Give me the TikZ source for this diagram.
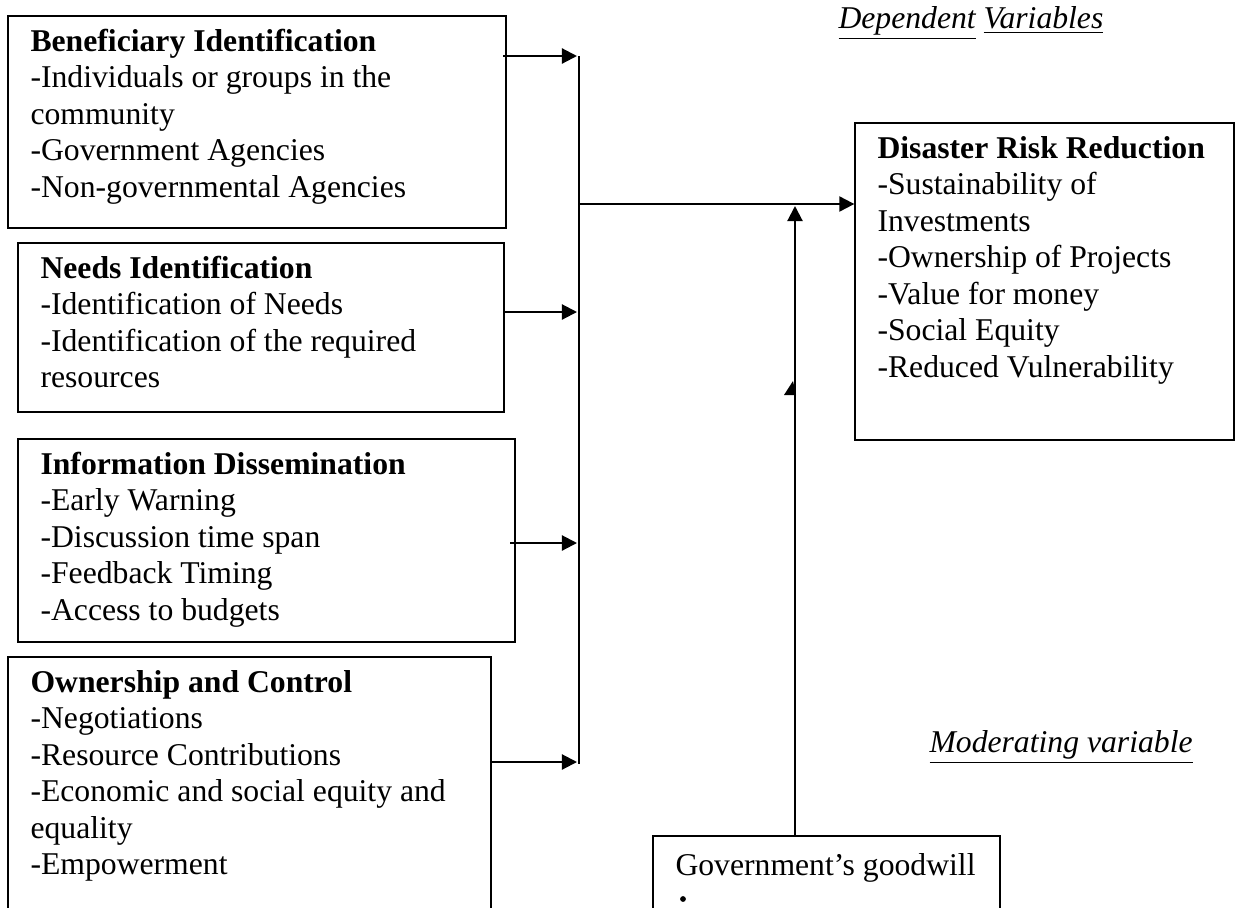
\documentclass[tikz,border=0pt]{standalone}
\usepackage{fontspec}
\setmainfont{Liberation Serif}
\usetikzlibrary{arrows.meta,fit}
\begin{document}
\begin{tikzpicture}[x=0.3788pt,y=-0.3788pt,
  box/.style={draw, line width=0.5pt, inner sep=0pt},
  txt/.style={anchor=north west, inner sep=0pt, align=left, font=\fontsize{12}{13.8}\selectfont},
  lbl/.style={anchor=base west, inner sep=0pt, font=\fontsize{12}{13.8}\selectfont\itshape},
  conn/.style={line width=0.8pt},
  arr/.style={conn, -{Triangle[length=5.7pt,width=5.7pt]}}]
\useasboundingbox (0,0) rectangle (1236,907);
\clip (0,0) rectangle (1236,907);

% boxes
\node[box, fit={(8,16) (506,228)}] (b1) {};
\node[box, fit={(18,243) (504,412)}] (b2) {};
\node[box, fit={(18,439) (515,642)}] (b3) {};
\node[box, fit={(8,657) (491,940)}] (b4) {};
\node[box, fit={(855,123) (1234,440)}] (drr) {};
\node[box, fit={(653,836) (1000,940)}] (gov) {};

% texts
\node[txt] (t1) at (30,27.2) {\rule{0pt}{9pt}\textbf{Beneficiary Identification}\\-Individuals or groups in the\\community\\-Government Agencies\\-Non-governmental Agencies};
\node[txt] (t2) at (40,254.2) {\rule{0pt}{9pt}\textbf{Needs Identification}\\-Identification of Needs\\-Identification of the required\\resources};
\node[txt] (t3) at (40,450.2) {\rule{0pt}{9pt}\textbf{Information Dissemination}\\-Early Warning\\-Discussion time span\\-Feedback Timing\\-Access to budgets};
\node[txt] (t4) at (30,668.2) {\rule{0pt}{9pt}\textbf{Ownership and Control}\\-Negotiations\\-Resource Contributions\\-Economic and social equity and\\equality\\-Empowerment};
\node[txt] (t5) at (877,134.2) {\rule{0pt}{9pt}\textbf{Disaster Risk Reduction}\\-Sustainability of\\Investments\\-Ownership of Projects\\-Value for money\\-Social Equity\\-Reduced Vulnerability};
\node[txt] (t6) at (675,851.2) {\rule{0pt}{9pt}Government’s goodwill};
\fill (683,899) circle (1.1pt);

\node[lbl] (dep) at (838,28) {\underline{Dependent} \underline{Variables}};
\node[lbl] (mod) at (929,752) {\underline{Moderating variable}};

% bus
\coordinate (bt) at (579,56);
\coordinate (bb) at (579,764);
\draw[conn] (bt) -- (bb);
\coordinate (j1) at (577,56);
\coordinate (j2) at (577,312);
\coordinate (j3) at (577,543);
\coordinate (j4) at (577,762);
\coordinate (s1) at (503,56);
\coordinate (s2) at (505,312);
\coordinate (s3) at (510,543);
\coordinate (s4) at (491,762);
\draw[arr] (s1) -- (j1);
\draw[arr] (s2) -- (j2);
\draw[arr] (s3) -- (j3);
\draw[arr] (s4) -- (j4);

% to dependent
\coordinate (m) at (579,204);
\draw[arr] (m) -- (drr.west |- m);

% moderating
\coordinate (g) at (795,836);
\coordinate (gt) at (795,206);
\draw[arr] (g) -- (gt);
\fill (784,395) -- (796,395) -- (793,381) -- cycle;
\end{tikzpicture}
\end{document}
